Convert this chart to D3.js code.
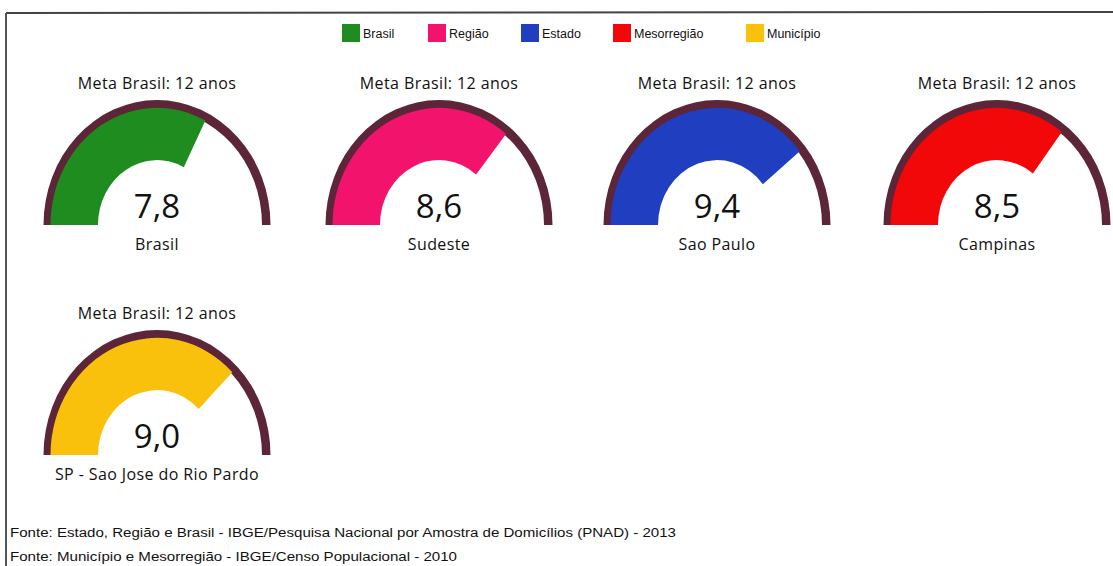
<!DOCTYPE html>
<html>
<head>
<meta charset="utf-8">
<script src="https://cdn.jsdelivr.net/npm/d3@7"></script>
<style>
  body { margin: 0; background: #fff; }
  svg { display: block; }
  .meta, .label { font-family: "Open Sans", sans-serif; font-size: 16px; letter-spacing: 0.4px; fill: #111; }
  .value { font-family: "Open Sans", sans-serif; font-size: 33px; fill: #111; }
  .legend, .fonte { font-family: "Liberation Sans", Arial, sans-serif; fill: #111; }
</style>
</head>
<body>
<svg id="chart" width="1113" height="566"></svg>
<script>
// data
const names = ["Brasil", "Sudeste", "Sao Paulo", "Campinas", "SP - Sao Jose do Rio Pardo"];
const values = [7.8, 8.6, 9.4, 8.5, 9.0];
const colors = ["#1f8c1f", "#f2146c", "#1f3fc0", "#f20808", "#f9c10c"];
const legendNames = ["Brasil", "Região", "Estado", "Mesorregião", "Município"];
const meta = 12;
const fontes = [
  "Fonte: Estado, Região e Brasil - IBGE/Pesquisa Nacional por Amostra de Domicílios (PNAD) - 2013",
  "Fonte: Município e Mesorregião - IBGE/Censo Populacional - 2010"
];

const svg = d3.select("#chart");

// frame (top + left border of the scanned box)
svg.append("line").attr("x1", 6).attr("x2", 1113).attr("y1", 13).attr("y2", 12)
  .attr("stroke", "#444").attr("stroke-width", 2);
svg.append("line").attr("x1", 6).attr("x2", 6).attr("y1", 13).attr("y2", 566)
  .attr("stroke", "#555").attr("stroke-width", 2);

// legend
const legendX = [342, 428, 521, 613, 746];
const lg = svg.append("g").attr("class", "legend");
legendNames.forEach((n, i) => {
  lg.append("rect").attr("x", legendX[i]).attr("y", 24).attr("width", 18).attr("height", 18)
    .attr("fill", colors[i]);
  lg.append("text").attr("x", legendX[i] + 21).attr("y", 38).attr("font-size", 12.5).text(n);
});

// gauges
const angle = d3.scaleLinear().domain([0, meta]).range([-Math.PI / 2, Math.PI / 2]);
const centers = [[157, 225], [439, 225], [717, 225], [997, 225], [157, 455]];
const rBack = d3.arc().innerRadius(105).outerRadius(113.5)
  .startAngle(angle(0)).endAngle(angle(meta));

names.forEach((name, i) => {
  const [cx, cy] = centers[i];
  const g = svg.append("g").attr("transform", `translate(${cx},${cy})`);
  const arcs = g.append("g").attr("transform", "scale(1,1.1)");
  arcs.append("path").attr("d", rBack()).attr("fill", "#5c2538");
  arcs.append("path")
    .attr("d", d3.arc().innerRadius(59).outerRadius(106.5)
      .startAngle(angle(0)).endAngle(angle(values[i]))())
    .attr("fill", colors[i]);

  g.append("text").attr("class", "meta").attr("text-anchor", "middle")
    .attr("y", -136).text("Meta Brasil: " + meta + " anos");
  g.append("text").attr("class", "value").attr("text-anchor", "middle")
    .attr("y", -7).text(d3.format(".1f")(values[i]).replace(".", ","));
  g.append("text").attr("class", "label").attr("text-anchor", "middle")
    .attr("y", 25).text(name);
});

// sources
const fy = [537, 561];
const fw = [666, 447];
fontes.forEach((t, i) => {
  svg.append("text").attr("class", "fonte").attr("x", 10).attr("y", fy[i])
    .attr("font-size", 12.5).attr("textLength", fw[i]).attr("lengthAdjust", "spacingAndGlyphs")
    .text(t);
});
</script>
</body>
</html>
